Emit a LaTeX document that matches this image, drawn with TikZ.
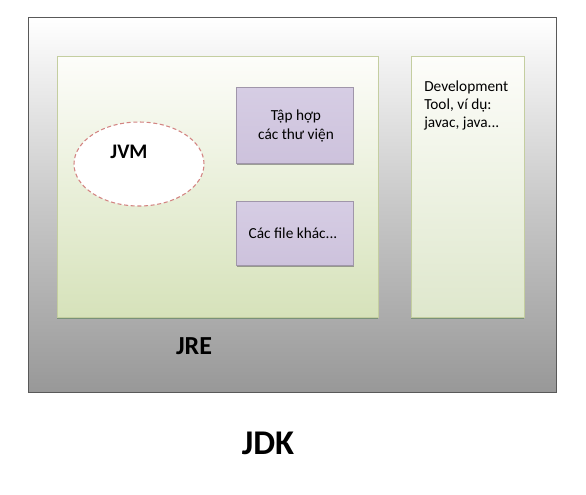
\documentclass[tikz,border=0pt]{standalone}
\usepackage{fontspec}
\setmainfont{Carlito}
\usetikzlibrary{shapes.geometric,shadows}
\definecolor{jdkbot}{RGB}{152,152,152}
\definecolor{jdkmid}{RGB}{200,200,200}
\definecolor{jretop}{RGB}{253,253,250}
\definecolor{jrebot}{RGB}{214,226,186}
\definecolor{devbot}{RGB}{222,231,204}
\definecolor{jreborder}{RGB}{196,206,160}
\definecolor{purplefill}{RGB}{205,194,220}
\definecolor{purpletop}{RGB}{214,205,228}
\definecolor{purpleborder}{RGB}{160,150,170}
\definecolor{jvmborder}{RGB}{192,80,77}
\tikzset{
  jdkbox/.style={draw=black!65, line width=0.8pt, top color=white, bottom color=jdkbot, middle color=jdkmid},
  jrebox/.style={draw=jreborder, line width=0.6pt, top color=jretop, bottom color=jrebot,
    drop shadow={shadow xshift=0pt, shadow yshift=-1.2pt, fill=black!50!green!30!gray, opacity=0.6}},
  devbox/.style={draw=jreborder, line width=0.6pt, top color=jretop, bottom color=devbot,
    drop shadow={shadow xshift=0pt, shadow yshift=-1.2pt, fill=black!50!green!30!gray, opacity=0.6}},
  libbox/.style={draw=purpleborder, line width=0.5pt, top color=purpletop, bottom color=purplefill,
    drop shadow={shadow xshift=0.4pt, shadow yshift=-1.2pt, fill=black!60, opacity=0.6}},
  jvmell/.style={ellipse, draw=jvmborder!70, dashed, dash pattern=on 3pt off 2pt, line width=0.8pt, fill=white},
  bodytext/.style={font=\fontsize{11.5}{14.5}\selectfont}
}
\begin{document}
\begin{tikzpicture}[x=0.75pt,y=-0.75pt]
\useasboundingbox[fill=white] (0,0) rectangle (586,494);
\node[jdkbox, rectangle, minimum width=528*0.75pt, minimum height=375*0.75pt, anchor=north west, inner sep=0] (jdk) at (28,17) {};
\node[jrebox, rectangle, minimum width=321*0.75pt, minimum height=261*0.75pt, anchor=north west, inner sep=0] (jre) at (57,56) {};
\node[devbox, rectangle, minimum width=113*0.75pt, minimum height=261*0.75pt, anchor=north west, inner sep=0] (dev) at (411,56) {};
\node[jvmell, minimum width=130*0.75pt, minimum height=84*0.75pt, inner sep=0] (jvm) at (139,164) {};
\node[font=\fontsize{15.5}{18}\selectfont\bfseries] (jvmlab) at (129,152) {JVM};
\node[libbox, rectangle, minimum width=117*0.75pt, minimum height=76*0.75pt, anchor=north west, inner sep=0] (lib) at (236,87) {};
\node[bodytext, align=center] (libtext) at (296,126) {Tập hợp\\các thư viện};
\node[libbox, rectangle, minimum width=117*0.75pt, minimum height=64*0.75pt, anchor=north west, inner sep=0] (files) at (236,201) {};
\node[bodytext] (filestext) at (293,233) {Các file khác...};
\node[anchor=north west, align=left, font=\fontsize{11.5}{13.5}\selectfont, inner sep=0] (devtext) at (424,81) {Development\\Tool, ví dụ:\\javac, java...};
\node[font=\fontsize{19.5}{22}\selectfont\bfseries] (jrelab) at (194,346) {JRE};
\node[font=\fontsize{26}{30}\selectfont\bfseries] (jdklab) at (268,443) {JDK};
\end{tikzpicture}
\end{document}
